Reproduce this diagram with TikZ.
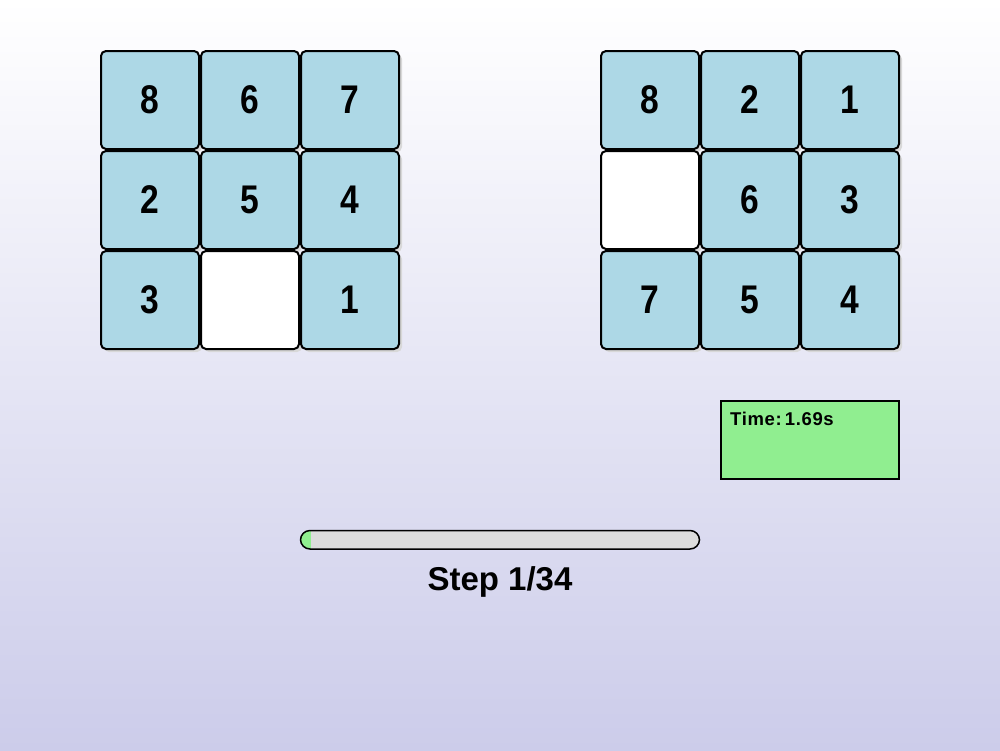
\documentclass[tikz,border=0pt]{standalone}
\usepackage{fontspec}
\setmainfont{Liberation Sans}
\newfontfamily\tilefont[FakeStretch=0.84]{Liberation Sans}
\definecolor{tileblue}{RGB}{173,216,230}
\definecolor{bgbottom}{RGB}{204,204,234}
\definecolor{shadowgray}{RGB}{216,216,216}
\definecolor{lgreen}{RGB}{144,238,144}
\definecolor{barbg}{RGB}{220,220,220}
\tikzset{
  tile/.style={draw=black, line width=2pt, rounded corners=5pt, fill=tileblue,
    minimum width=98pt, minimum height=98pt, inner sep=0pt,
    font=\tilefont\bfseries\fontsize{40}{40}\selectfont},
  blank/.style={tile, fill=white},
  tshadow/.style={fill=shadowgray, rounded corners=5pt},
}
\begin{document}
\begin{tikzpicture}[x=1pt,y=-1pt]
\shade[top color=white, bottom color=bgbottom] (0,0) rectangle (1000,750);
\useasboundingbox (0,0) rectangle (1000,750);
% shadows
\foreach \gx in {100,600}{
  \foreach \r in {0,1,2}{
    \foreach \c in {0,1,2}{
      \fill[tshadow] (\gx+\c*100+4, 50+\r*100+4) rectangle (\gx+\c*100+102, 50+\r*100+102);
    }
  }
}
% left board
\node[tile]  (L11) at (150,100) {8};
\node[tile]  (L12) at (250,100) {6};
\node[tile]  (L13) at (350,100) {7};
\node[tile]  (L21) at (150,200) {2};
\node[tile]  (L22) at (250,200) {5};
\node[tile]  (L23) at (350,200) {4};
\node[tile]  (L31) at (150,300) {3};
\node[blank] (L32) at (250,300) {};
\node[tile]  (L33) at (350,300) {1};
% right board
\node[tile]  (R11) at (650,100) {8};
\node[tile]  (R12) at (750,100) {2};
\node[tile]  (R13) at (850,100) {1};
\node[blank] (R21) at (650,200) {};
\node[tile]  (R22) at (750,200) {6};
\node[tile]  (R23) at (850,200) {3};
\node[tile]  (R31) at (650,300) {7};
\node[tile]  (R32) at (750,300) {5};
\node[tile]  (R33) at (850,300) {4};
% timer
\node[draw=black, line width=2pt, fill=lgreen, minimum width=178pt, minimum height=78pt, inner sep=0pt] (timer) at (810,440) {};
\node[anchor=base west, inner sep=0pt, font=\bfseries\fontsize{18.5}{18}\selectfont\addfontfeature{LetterSpace=3.5}] (timetext) at (730,425) {Time:\,1.69s};
% progress bar
\begin{scope}
\clip[rounded corners=9.5pt] (300.5,530.5) rectangle (699.5,549);
\fill[barbg] (300,530) rectangle (700,550);
\fill[lgreen] (300,530) rectangle (311,550);
\end{scope}
\draw[line width=1.5pt, rounded corners=9.5pt] (300.5,530.5) rectangle (699.5,549) node[midway, inner sep=0pt] (bar) {};
\node[anchor=base, inner sep=0pt, font=\bfseries\fontsize{33}{33}\selectfont] (step) at (500,590) {Step 1/34};
\end{tikzpicture}
\end{document}
